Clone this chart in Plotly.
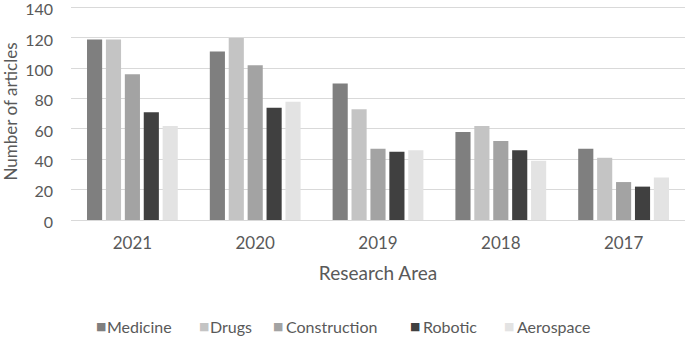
import plotly.graph_objects as go

years = ["2021", "2020", "2019", "2018", "2017"]
series_names = ["Medicine", "Drugs", "Construction", "Robotic", "Aerospace"]
medicine = [119, 111, 90, 58, 47]
drugs = [119, 120, 73, 62, 41]
construction = [96, 102, 47, 52, 25]
robotic = [71, 74, 45, 46, 22]
aerospace = [62, 78, 46, 39, 28]
y_ticks = [0, 20, 40, 60, 80, 100, 120, 140]

colors = ["#7f7f7f", "#c4c4c4", "#a3a3a3", "#404040", "#e3e3e3"]
values = [medicine, drugs, construction, robotic, aerospace]

W, H = 685, 337
ML, MR, MT, MB = 71, 0, 3, 117
plot_w = W - ML - MR
plot_h = H - MT - MB

fig = go.Figure()
for name, vals, c in zip(series_names, values, colors):
    fig.add_trace(go.Bar(x=years, y=vals, name=name, showlegend=False,
                         marker=dict(color=c, line=dict(width=0))))

# manual legend (positions in pixels of the page)
legend_marker_px = [95, 198, 272, 409, 503]
legend_text_px = [106, 209, 285, 422, 516]
legend_y_px = 326
ly = (H - MB - legend_y_px) / plot_h
for name, c, mx, tx in zip(series_names, colors, legend_marker_px, legend_text_px):
    fig.add_annotation(
        xref="paper", yref="paper", x=(mx - ML) / plot_w, y=ly,
        xanchor="left", yanchor="middle", showarrow=False,
        text="■", font=dict(size=11, color=c, family="DejaVu Sans"),
        xshift=-1,
    )
    fig.add_annotation(
        xref="paper", yref="paper", x=(tx - ML) / plot_w, y=ly,
        xanchor="left", yanchor="middle", showarrow=False,
        text=name, font=dict(size=16, color="#595959"),
        xshift=-1,
    )

font_family = "Lato, Open Sans, sans-serif"
fig.update_layout(
    width=W, height=H,
    margin=dict(l=ML, r=MR, t=MT, b=MB, autoexpand=False),
    paper_bgcolor="white", plot_bgcolor="white",
    barmode="group", bargap=0.23, bargroupgap=0.2,
    font=dict(family=font_family, color="#595959", size=16),
    showlegend=False,
)
fig.update_xaxes(
    automargin=False,
    showgrid=False, showline=True, linecolor="#d9d9d9", linewidth=1,
    tickfont=dict(size=17, color="#595959"), ticks="",
    ticklabelstandoff=8,
    title=dict(text="Research Area", font=dict(size=19, color="#595959"), standoff=14),
)
fig.update_yaxes(
    automargin=False, ticklabeloverflow="allow",
    range=[0, 143], tickvals=y_ticks, showgrid=True, gridcolor="#d9d9d9", gridwidth=1,
    zeroline=False, showline=False, tickfont=dict(size=16, color="#595959"), ticks="",
    ticklabelstandoff=17, ticklabelshift=2,
    title=dict(text="Number of articles", font=dict(size=17, color="#595959"), standoff=8),
)
fig.write_html("out.html", config={"displayModeBar": False},
               post_script="document.body.style.margin='0';document.body.style.overflow='hidden';")
